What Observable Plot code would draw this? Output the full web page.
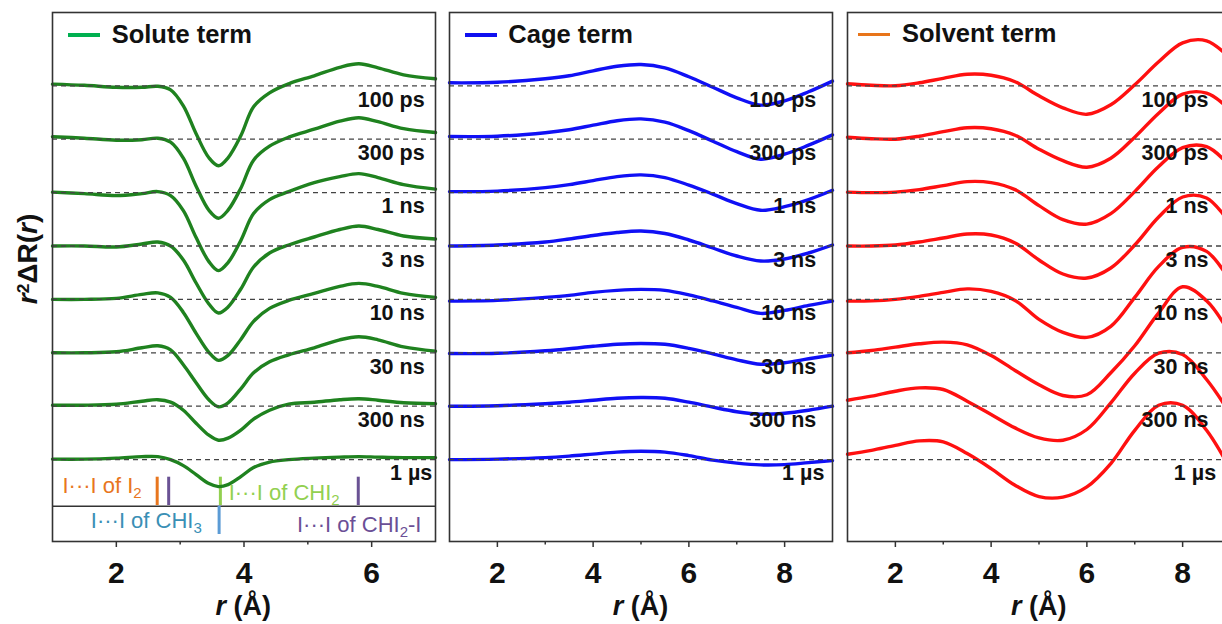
<!DOCTYPE html>
<html>
<head>
<meta charset="utf-8">
<script src="https://cdn.jsdelivr.net/npm/d3@7"></script>
<script src="https://cdn.jsdelivr.net/npm/@observablehq/plot@0.6"></script>
<style>
  body { margin: 0; overflow: hidden; background: #fff; font-family: "Liberation Sans", Arial, sans-serif; }
  #wrap { position: relative; width: 1222px; height: 624px; overflow: hidden; background: #fff; }
  .panel { position: absolute; top: 0; height: 624px; }
  .panel svg { max-width: none !important; }
  .lbl { position: absolute; white-space: nowrap; font-weight: bold; color: #111; line-height: 1; transform: translateY(-50%); }
  .lbl sup { font-size: 0.62em; position: relative; top: -0.45em; vertical-align: baseline; }
  .key { position: absolute; height: 3.5px; width: 32px; }
</style>
</head>
<body>
<div id="wrap"></div>
<script>
// ---------------- data ----------------
const delays = ["100 ps", "300 ps", "1 ns", "3 ns", "10 ns", "30 ns", "300 ns", "1 µs"];

// Solute term r grid (Å) and r²ΔR(r) per delay (arbitrary units)
const soluteR = [1.0, 1.5, 2.0, 2.4, 2.65, 2.85, 3.05, 3.25, 3.45, 3.6, 3.75, 3.95, 4.15, 4.4, 4.7, 5.1, 5.5, 5.8, 6.1, 6.5, 7.0];
const soluteCurves = [
  [1.7, 0.5, -1.5, -1.5, -0.5, -4, -20, -48, -72, -80, -72, -50, -21, -7, 2, 10, 18.5, 22, 18, 11, 7],
  [2.5, 1, -1, -0.5, 1, -3, -19, -47, -71, -79, -71, -49, -21, -7, 2, 10, 18, 21.5, 17.5, 10.5, 6.7],
  [0.5, -1, -3, -1, 1, -3, -18, -45, -69, -78, -70, -48, -21, -7, 1, 10, 16, 19, 15, 8, 3.5],
  [0, 0, -1, 2, 4, 0, -14, -37, -58, -67, -61, -43, -21, -7, 1, 9, 16.5, 20, 16.5, 10, 7],
  [0, 0, 1, 5, 6.5, 2, -13, -34, -53, -61, -56, -40, -22, -9, -1, 6, 13, 16, 13, 6, 2],
  [0, 0, 1, 5, 7, 3, -12, -30, -47, -54, -50, -36, -20, -9, -2, 5, 13, 16, 13, 6, 1.7],
  [1, 1, 2, 5, 6.5, 4, -4, -17, -29, -34, -32, -24, -13, -4, 2, 4, 6.5, 7.5, 6, 3.5, 2.5],
  [0.5, 0.5, 1.5, 3, 3, 0, -6, -15, -24, -27, -25, -17, -8, -2.5, 0, 1.5, 2.5, 3, 2.5, 2, 2]
];

// Cage term
const cageR = [1, 2, 3, 3.5, 4, 4.5, 5, 5.5, 6, 6.5, 7, 7.5, 8, 8.5, 9];
const cageCurves = [
  [3, 3.5, 7, 10, 15, 19.5, 21.3, 18, 9, -1.5, -12, -19.3, -15, -6, 4.7],
  [2.7, 3, 6.5, 9.5, 14, 18.5, 20.3, 17, 8.5, -2, -12.5, -20, -15, -6, 4.3],
  [1, 1.5, 5, 8, 12, 16, 17.7, 15, 7.5, -1.5, -11, -17.7, -14, -7, 2.3],
  [0, 1, 4, 7, 10.5, 13.5, 15, 12.5, 6, -2, -10, -15, -13, -7, 1],
  [-1.7, -1, 2, 4, 7, 9, 10, 9, 4.5, -1.5, -8, -14, -11, -6, -1.7],
  [-0.7, -0.5, 2, 4, 6.5, 8.5, 9.3, 8.5, 4.5, -1, -7, -11.5, -10, -6, -2.3],
  [0, 0.5, 2.5, 4, 6, 8, 8.7, 8, 4, -1, -5.5, -8, -7, -4, 0],
  [0, 0.5, 2, 3.5, 5.5, 7.5, 8.3, 7.5, 4, -0.5, -3.5, -5.3, -5, -3, -1]
];

// Solvent term
const solventR = [1, 1.5, 2, 2.5, 3, 3.5, 4, 4.5, 5, 5.5, 6, 6.5, 7, 7.5, 8, 8.5, 9];
const solventCurves = [
  [2, 0.5, 0, 3, 7.5, 11.5, 10.5, 4, -10, -22, -28.5, -19, 1, 24, 43, 45, 27],
  [2, 0.5, 0, 3, 7.5, 11.5, 10.5, 4, -10, -21.5, -28, -19, 2, 26, 45, 46, 29],
  [0.5, 0, 0.5, 3, 7, 11, 10, 3, -13, -27, -31.5, -21, 1, 26, 45, 46, 26],
  [0, 0, 1, 4, 8, 12, 11, 3, -14, -28, -32, -22, 1, 29, 49, 48, 22],
  [-1.7, -1.5, 0, 3, 7, 10.5, 8, -1, -20, -33, -38, -27, 2, 33, 52, 48, 18],
  [0, 2.3, 5.7, 9, 10.7, 8, -2.7, -17.7, -32, -42.7, -42, -20, 7, 40, 66, 52, 18],
  [6, 10, 15, 18.3, 16.7, 5, -8.3, -21.7, -31.7, -34, -23.3, 3.3, 33, 53, 51.7, 26.7, -8],
  [5.3, 9.3, 14.3, 18.7, 17.7, 6, -9, -25.7, -37, -37.5, -27.3, -4, 29.3, 54.3, 54.3, 29.3, -10]
];

// Reference distances (Å) marked in the solute panel
const stickR = [2.64, 2.82, 3.63, 5.79, 3.61];
const annotationLabels = ["I\u00B7\u00B7\u00B7I of I\u2082", "I\u00B7\u00B7\u00B7I of CHI\u2082", "I\u00B7\u00B7\u00B7I of CHI\u2083", "I\u00B7\u00B7\u00B7I of CHI\u2082-I"];

const termTitles = ["Solute term", "Cage term", "Solvent term"];
const ticksSolute = [2, 4, 6];
const minorSolute = [3, 5];
const ticksWide = [2, 4, 6, 8];
const minorWide = [3, 5, 7];

// ---------------- layout / style ----------------
const STEP = 53.4;               // vertical offset between delays
const Y_DOMAIN = [-455.7, 73.3];
const stickColors = ["#e8761e", "#6a5294", "#92d050", "#6a5294", "#5b9bd5"];
const stickY = [[-391.4, -419.7], [-391.4, -419.7], [-391.4, -419.7], [-391.4, -419.7], [-420.4, -448.7]];
const annColors = ["#e8761e", "#92d050", "#3a8fb5", "#6b4f96"];
const annX = [1.156, 3.76, 1.60, 4.83];
const annY = [-400, -407, -434.7, -439.2];
const TICK_FONT = 30;

function subscriptify(svg) {
  const ns = "http://www.w3.org/2000/svg";
  svg.querySelectorAll("text").forEach(t => {
    const s = t.textContent;
    if (!/[\u2082\u2083]/.test(s)) return;
    t.textContent = "";
    let shifted = false;
    for (const p of s.split(/([\u2082\u2083])/)) {
      if (!p) continue;
      const ts = document.createElementNS(ns, "tspan");
      if (p === "\u2082" || p === "\u2083") {
        ts.textContent = p === "\u2082" ? "2" : "3";
        ts.setAttribute("font-size", "15");
        ts.setAttribute("dy", "5");
        shifted = true;
      } else {
        ts.textContent = p;
        if (shifted) { ts.setAttribute("dy", "-5"); shifted = false; }
      }
      t.appendChild(ts);
    }
  });
}

function makePanel(cfg) {
  const rows = cfg.curves.flatMap((vals, i) =>
    vals.map((v, j) => ({r: cfg.r[j], v: v - i * STEP, delay: delays[i]})));
  const marks = [];
  if (cfg.strip) {
    marks.push(
      Plot.ruleY([-420.4], {stroke: "#333", strokeWidth: 1.5}),
      Plot.ruleX(stickR, {x: d => d, y1: (d, i) => stickY[i][0], y2: (d, i) => stickY[i][1],
        stroke: (d, i) => stickColors[i], strokeWidth: 3}),
      Plot.text(annotationLabels, {x: (d, i) => annX[i], y: (d, i) => annY[i], text: d => d,
        fill: (d, i) => annColors[i], textAnchor: "start", fontSize: 22})
    );
  }
  marks.push(
    Plot.line(rows, {x: "r", y: "v", z: "delay", stroke: cfg.color, strokeWidth: 3.4, curve: "catmull-rom"}),
    Plot.ruleY(delays.map((d, i) => -i * STEP), {stroke: "#444", strokeWidth: 1.3, strokeDasharray: "5,4"}),
    Plot.text(delays, {
      x: (d, i) => i === delays.length - 1 ? cfg.lastLabelX : cfg.labelX,
      y: (d, i) => -i * STEP, dy: 14, text: d => d,
      textAnchor: "end", fontSize: 21.5, fontWeight: "bold", fill: "#111"
    }),
    Plot.frame({stroke: "#333", strokeWidth: 1.6}),
    Plot.axisX(cfg.majors, {tickSize: 6, tickPadding: 14, fontSize: TICK_FONT, fontWeight: "bold",
      label: null, stroke: "#333", strokeWidth: 1.5, fill: "#111"}),
    Plot.axisX(cfg.minors, {tickSize: 3.5, tickFormat: () => "", label: null, stroke: "#333", strokeWidth: 1.5})
  );
  const svg = Plot.plot({
    width: cfg.width, height: 624,
    marginLeft: cfg.ml, marginRight: cfg.mr, marginTop: 12, marginBottom: 83,
    x: {domain: cfg.domain},
    y: {domain: Y_DOMAIN, axis: null},
    color: {type: "identity"},
    style: {background: "transparent", fontFamily: "'Liberation Sans', Arial, sans-serif", overflow: "visible", maxWidth: "none"},
    marks
  });
  subscriptify(svg);
  svg.querySelectorAll('g[aria-label="x-axis tick label"]').forEach(g => {
    g.setAttribute("font-size", TICK_FONT);
    g.setAttribute("font-weight", "bold");
    g.querySelectorAll("text").forEach(t => { t.style.fontSize = TICK_FONT + "px"; t.style.fontWeight = "bold"; });
  });
  svg.setAttribute("width", cfg.width);
  svg.style.width = cfg.width + "px";
  const div = document.createElement("div");
  div.className = "panel";
  div.style.left = cfg.left + "px";
  div.style.width = cfg.width + "px";
  div.appendChild(svg);
  document.getElementById("wrap").appendChild(div);
}

makePanel({left: 0, width: 442, ml: 52, mr: 7, domain: [1, 7], r: soluteR, curves: soluteCurves,
  color: "#1f821f", labelX: 6.83, lastLabelX: 6.95, majors: ticksSolute, minors: minorSolute, strip: true});
makePanel({left: 442, width: 397, ml: 7, mr: 7, domain: [1, 9], r: cageR, curves: cageCurves,
  color: "#1010f5", labelX: 8.66, lastLabelX: 8.83, majors: ticksWide, minors: minorWide});
makePanel({left: 839, width: 399, ml: 8, mr: 8, domain: [1, 9], r: solventR, curves: solventCurves,
  color: "#ff1010", labelX: 8.54, lastLabelX: 8.70, majors: ticksWide, minors: minorWide});

// ---------------- text overlays ----------------
const wrap = document.getElementById("wrap");
function addLabel(html, left, top, size, extra) {
  const d = document.createElement("div");
  d.className = "lbl";
  d.innerHTML = html;
  d.style.left = left + "px";
  d.style.top = top + "px";
  d.style.fontSize = size + "px";
  if (extra) Object.assign(d.style, extra);
  wrap.appendChild(d);
  return d;
}
// legends
const keyColors = ["#00b050", "#1010f0", "#e8751a"];
const keyX = [68.3, 465, 857.7];
const keyY = [35, 35, 34.3];
const keyTextX = [111.7, 508.3, 902];
termTitles.forEach((t, i) => {
  const k = document.createElement("div");
  k.className = "key";
  k.style.left = keyX[i] + "px";
  k.style.top = (keyY[i] - 1.75) + "px";
  k.style.background = keyColors[i];
  wrap.appendChild(k);
  addLabel(t, keyTextX[i], keyY[i], 25.5);
});
// x-axis titles
[243.3, 640.5, 1038.7].forEach(cx => {
  addLabel("<i>r</i> (Å)", cx, 606, 27, {transform: "translate(-50%, -50%)"});
});
// y-axis title
addLabel("<i>r</i><sup>2</sup>ΔR(<i>r</i>)", 27.5, 259, 28, {transform: "translate(-50%, -50%) rotate(-90deg)"});
</script>
</body>
</html>
